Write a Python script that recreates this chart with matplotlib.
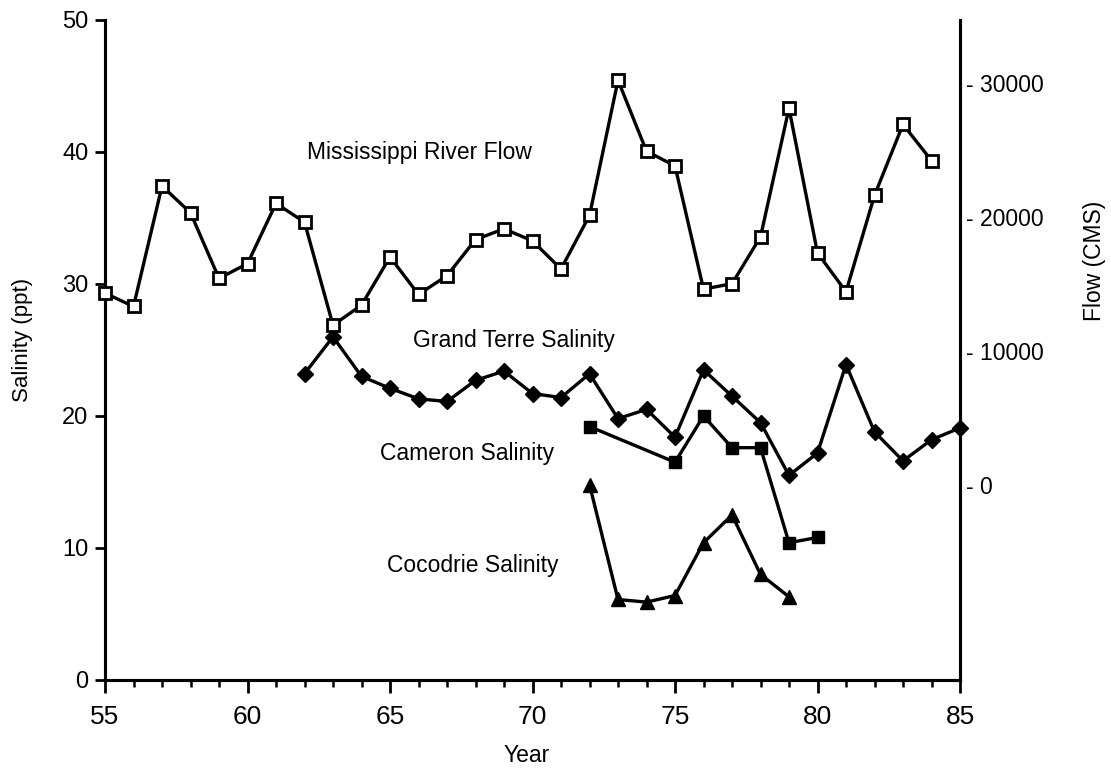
import matplotlib
matplotlib.use("Agg")
import matplotlib.pyplot as plt
from matplotlib.ticker import MultipleLocator

plt.rcParams['font.family'] = ['Liberation Sans', 'DejaVu Sans']

# ---- data ----
flow_years = list(range(55, 85))
flow_cms = [14300, 13300, 22300, 20300, 15400, 16500, 21000, 19600, 11900, 13400,
            17000, 14200, 15600, 18300, 19100, 18200, 16100, 20100, 30200, 24900,
            23800, 14600, 15000, 18500, 28100, 17300, 14400, 21600, 26900, 24200]

gt_years = list(range(62, 86))
gt_sal = [23.2, 26.0, 23.0, 22.1, 21.3, 21.1, 22.7, 23.4, 21.7, 21.4, 23.2, 19.8,
          20.5, 18.4, 23.5, 21.5, 19.5, 15.5, 17.2, 23.9, 18.8, 16.6, 18.2, 19.1]

cam_years = [72, 75, 76, 77, 78, 79, 80]
cam_sal = [19.2, 16.5, 20.0, 17.6, 17.6, 10.4, 10.8]

coc_years = [72, 73, 74, 75, 76, 77, 78, 79]
coc_sal = [14.8, 6.1, 5.9, 6.4, 10.4, 12.5, 8.0, 6.3]

sal_ticks = [0, 10, 20, 30, 40, 50]
year_ticks = [55, 60, 65, 70, 75, 80, 85]
flow_ticks = [0, 10000, 20000, 30000]
flow_tick_labels = ['- 0', '- 10000', '- 20000', '- 30000']

# ---- figure ----
fig = plt.figure(figsize=(11.11, 7.7), dpi=100)
ax = fig.add_axes([105/1111, 1 - 680/770, 855/1111, 660/770])
ax2 = ax.twinx()

lw = 2.4
ax.plot(gt_years, gt_sal, color='black', lw=lw, marker='D', ms=8,
        mfc='black', mec='black', clip_on=False, zorder=3)
ax.plot(cam_years, cam_sal, color='black', lw=lw, marker='s', ms=9,
        mfc='black', mec='black', clip_on=False, zorder=3)
ax.plot(coc_years, coc_sal, color='black', lw=lw, marker='^', ms=9.5,
        mfc='black', mec='black', clip_on=False, zorder=3)

ax2.plot(flow_years, flow_cms, color='black', lw=lw, marker='s', ms=9,
         mfc='white', mec='black', mew=2.0, clip_on=False, zorder=3)

ax.set_xlim(55, 85)
ax.set_ylim(0, 50)
ax2.set_ylim(-14600, 34700)

# spines
for a in (ax, ax2):
    a.spines['top'].set_visible(False)
    for s in ('left', 'right', 'bottom'):
        a.spines[s].set_linewidth(2.2)

ax.set_xticks(year_ticks)
ax.xaxis.set_minor_locator(MultipleLocator(1))
ax.set_yticks(sal_ticks)
ax.tick_params(axis='x', which='major', direction='out', length=9, width=2,
               labelsize=19, pad=9)
ax.tick_params(axis='x', which='minor', direction='out', length=5, width=1.8)
ax.tick_params(axis='y', which='major', direction='out', length=7, width=2,
               labelsize=17, pad=5)

ax2.set_yticks(flow_ticks)
ax2.set_yticklabels(flow_tick_labels)
ax2.tick_params(axis='y', which='major', length=0, labelsize=16.5, pad=4)

ax.set_xlabel('Year', fontsize=16.5)
ax.xaxis.set_label_coords(0.4936, -0.097)
ax.set_ylabel('Salinity (ppt)', fontsize=16)
ax.yaxis.set_label_coords(-0.084, 0.515)
ax2.set_ylabel('Flow (CMS)', fontsize=16.5)
ax2.yaxis.set_label_coords(1.144, 0.635)

# series labels
ax.text(66.02, 39.5, 'Mississippi River Flow', fontsize=16.5, ha='center', va='baseline')
ax.text(69.35, 25.2, 'Grand Terre Salinity', fontsize=16.5, ha='center', va='baseline')
ax.text(67.69, 16.67, 'Cameron Salinity', fontsize=16.5, ha='center', va='baseline')
ax.text(67.9, 8.2, 'Cocodrie Salinity', fontsize=16.5, ha='center', va='baseline')

fig.savefig('out.png', dpi=100)
